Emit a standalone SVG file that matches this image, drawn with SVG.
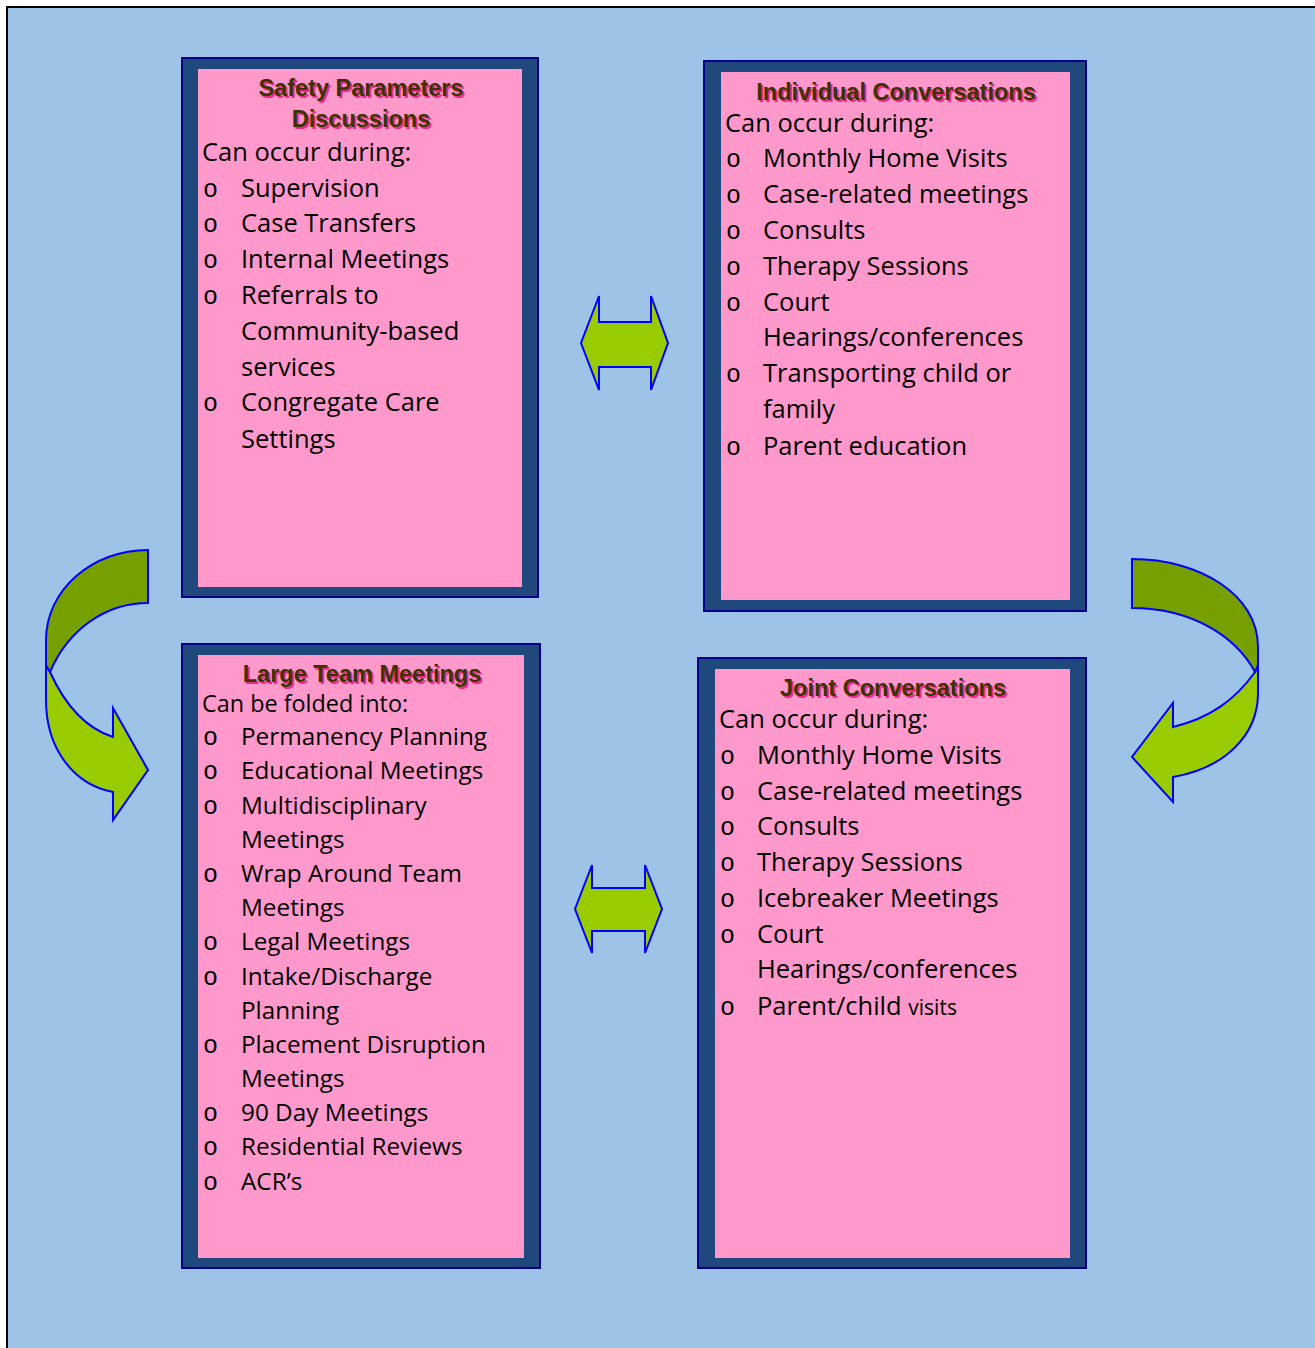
<svg xmlns="http://www.w3.org/2000/svg" width="1315" height="1348" viewBox="0 0 1315 1348">
<style>
.frame{fill:#1F497D;stroke:#00008B;stroke-width:2}
.pink{fill:#FF99CC}
.title{font-family:"Liberation Sans",Arial,sans-serif;font-weight:bold;font-size:23.5px;text-anchor:middle;fill:#3A3500}
.shadow{font-family:"Liberation Sans",Arial,sans-serif;font-weight:bold;font-size:23.5px;text-anchor:middle;fill:#EE2A86}
.body{font-family:"Open Sans",sans-serif;font-size:25.5px;fill:#000}
.b3{font-size:24.3px}
.bul{font-family:"Liberation Mono",monospace;font-size:25px;fill:#000}
.dbl{fill:#99CC00;stroke:#0000FF;stroke-width:2;stroke-linejoin:miter}
.dark{fill:#76A000;stroke:#0000FF;stroke-width:2}
.light{fill:#99CC00;stroke:#0000FF;stroke-width:2}
</style>
<rect x="7" y="7" width="1320" height="1360" fill="#9DC3E6" stroke="#000" stroke-width="2"/>

<g id="connectors">
<polygon class="dbl" points="581,343 599,296 599,322 651,322 651,296 668,343 651,390 651,367 599,367 599,390"/>
<polygon class="dbl" points="575,909 592,865 592,888 645,888 645,865 662,909 645,953 645,931 592,931 592,953"/>
<path class="light" d="M50,672 C65,705 85,728 113,737 L113,708 L148,770 L113,820 L113,792 C75,785 46,750 46,700 L46,665 Z"/>
<path class="dark" d="M148,550 L148,603 C105,603 68,630 50,672 L46,665 L46,640 C46,590 92,550 148,550 Z"/>
<path class="light" d="M1255,672 C1235,700 1210,718 1173,727 L1173,703 L1132,757 L1173,802 L1173,777 C1225,768 1258,735 1258,693 L1258,665 Z"/>
<path class="dark" d="M1132,559 C1200,559 1258,595 1258,647 L1258,665 L1255,672 C1235,635 1190,608 1132,608 Z"/>
</g>

<g id="safety">
<rect class="frame" x="182" y="58" width="356" height="539"/>
<rect class="pink" x="198" y="69" width="324" height="518"/>
<text class="shadow" x="363" y="98">Safety Parameters</text>
<text class="title" x="361" y="96">Safety Parameters</text>
<text class="shadow" x="363" y="129">Discussions</text>
<text class="title" x="361" y="127">Discussions</text>
<text class="body" x="202" y="161">Can occur during:</text>
<g class="bul"><text x="203" y="197">o</text><text x="203" y="232">o</text><text x="203" y="268">o</text><text x="203" y="304">o</text><text x="203" y="411">o</text></g>
<g class="body">
<text x="241" y="197">Supervision</text>
<text x="241" y="232">Case Transfers</text>
<text x="241" y="268">Internal Meetings</text>
<text x="241" y="304">Referrals to</text>
<text x="241" y="340">Community-based</text>
<text x="241" y="376">services</text>
<text x="241" y="411">Congregate Care</text>
<text x="241" y="448">Settings</text>
</g>
</g>

<g id="individual">
<rect class="frame" x="704" y="61" width="382" height="550"/>
<rect class="pink" x="721" y="72" width="349" height="528"/>
<text class="shadow" x="898" y="102">Individual Conversations</text>
<text class="title" x="896" y="100">Individual Conversations</text>
<text class="body" x="725" y="132">Can occur during:</text>
<g class="bul"><text x="726" y="167">o</text><text x="726" y="203">o</text><text x="726" y="239">o</text><text x="726" y="275">o</text><text x="726" y="311">o</text><text x="726" y="382">o</text><text x="726" y="455">o</text></g>
<g class="body">
<text x="763" y="167">Monthly Home Visits</text>
<text x="763" y="203">Case-related meetings</text>
<text x="763" y="239">Consults</text>
<text x="763" y="275">Therapy Sessions</text>
<text x="763" y="311">Court</text>
<text x="763" y="346">Hearings/conferences</text>
<text x="763" y="382">Transporting child or</text>
<text x="763" y="418">family</text>
<text x="763" y="455">Parent education</text>
</g>
</g>

<g id="large">
<rect class="frame" x="182" y="644" width="358" height="624"/>
<rect class="pink" x="198" y="655" width="326" height="603"/>
<text class="shadow" x="364" y="684">Large Team Meetings</text>
<text class="title" x="362" y="682">Large Team Meetings</text>
<text class="body" x="202" y="712" style="font-size:23.4px">Can be folded into:</text>
<g class="bul"><text x="203" y="745">o</text><text x="203" y="779">o</text><text x="203" y="814">o</text><text x="203" y="882">o</text><text x="203" y="950">o</text><text x="203" y="985">o</text><text x="203" y="1053">o</text><text x="203" y="1121">o</text><text x="203" y="1155">o</text><text x="203" y="1190">o</text></g>
<g class="body b3">
<text x="241" y="745">Permanency Planning</text>
<text x="241" y="779">Educational Meetings</text>
<text x="241" y="814">Multidisciplinary</text>
<text x="241" y="848">Meetings</text>
<text x="241" y="882">Wrap Around Team</text>
<text x="241" y="916">Meetings</text>
<text x="241" y="950">Legal Meetings</text>
<text x="241" y="985">Intake/Discharge</text>
<text x="241" y="1019">Planning</text>
<text x="241" y="1053">Placement Disruption</text>
<text x="241" y="1087">Meetings</text>
<text x="241" y="1121">90 Day Meetings</text>
<text x="241" y="1155">Residential Reviews</text>
<text x="241" y="1190">ACR’s</text>
</g>
</g>

<g id="joint">
<rect class="frame" x="698" y="658" width="388" height="610"/>
<rect class="pink" x="715" y="669" width="355" height="589"/>
<text class="shadow" x="895" y="698">Joint Conversations</text>
<text class="title" x="893" y="696">Joint Conversations</text>
<text class="body" x="719" y="728">Can occur during:</text>
<g class="bul"><text x="720" y="764">o</text><text x="720" y="800">o</text><text x="720" y="835">o</text><text x="720" y="871">o</text><text x="720" y="907">o</text><text x="720" y="943">o</text><text x="720" y="1015">o</text></g>
<g class="body">
<text x="757" y="764">Monthly Home Visits</text>
<text x="757" y="800">Case-related meetings</text>
<text x="757" y="835">Consults</text>
<text x="757" y="871">Therapy Sessions</text>
<text x="757" y="907">Icebreaker Meetings</text>
<text x="757" y="943">Court</text>
<text x="757" y="978">Hearings/conferences</text>
<text x="757" y="1015">Parent/child <tspan style="font-size:21px">visits</tspan></text>
</g>
</g>
</svg>
